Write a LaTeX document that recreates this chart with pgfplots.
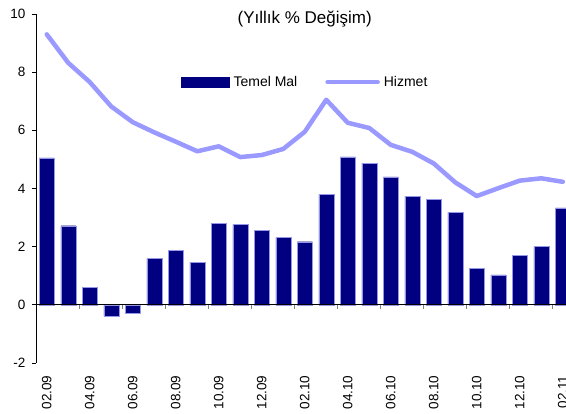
\documentclass[border=0pt]{standalone}
\usepackage{fontspec}
\setmainfont{Liberation Sans}
\usepackage{pgfplots}
\usepackage{pgfplotstable}
\pgfplotsset{compat=1.18}

\definecolor{barnavy}{RGB}{0,0,128}
\definecolor{baredge}{RGB}{150,150,230}
\definecolor{lineblue}{RGB}{153,153,255}

% month index, Temel Mal, Hizmet
\pgfplotstableread{
x temel hizmet
0  5.05 9.30
1  2.72 8.32
2  0.60 7.66
3 -0.40 6.82
4 -0.30 6.28
5  1.59 5.93
6  1.87 5.61
7  1.47 5.28
8  2.79 5.45
9  2.77 5.08
10 2.56 5.15
11 2.31 5.36
12 2.17 5.95
13 3.80 7.05
14 5.09 6.26
15 4.87 6.08
16 4.40 5.50
17 3.74 5.26
18 3.62 4.86
19 3.19 4.21
20 1.26 3.74
21 1.03 4.01
22 1.71 4.27
23 2.00 4.35
24 3.33 4.23
}\data

\begin{document}
\begin{tikzpicture}
\begin{axis}[
    scale only axis,
    width=530pt,
    height=349pt,
    xmin=-0.5, xmax=24.15,
    ymin=-2, ymax=10,
    clip mode=individual,
    axis x line*=bottom,
    axis y line*=left,
    x axis line style={draw=none},
    y axis line style={black, line width=0.8pt, -},
    ytick={-2,0,...,10},
    xtick={0,2,...,24},
    xticklabels={02.09,04.09,06.09,08.09,10.09,12.09,02.10,04.10,06.10,08.10,10.10,12.10,02.11},
    xtick style={draw=none},
    ytick style={black, line width=0.8pt},
    tick align=outside,
    major tick length=4pt,
    /pgf/number format/assume math mode=true,
    ticklabel style={font=\fontsize{13.5}{15}\selectfont},
    xticklabel style={rotate=90, anchor=east},
    xticklabel shift=5pt,
    yticklabel style={xshift=-3pt},
    legend columns=2,
    legend style={
        at={(rel axis cs:0.51,0.805)}, anchor=center,
        draw=none, fill=none,
        font=\fontsize{14}{16}\selectfont,
        nodes={inner xsep=4pt},
        /tikz/every even column/.append style={column sep=24pt},
    },
    legend cell align=left,
]

\addplot[
    ybar,
    bar width=15pt,
    fill=barnavy,
    draw=baredge,
    line width=0.4pt,
    legend image code/.code={\fill[barnavy] (0pt,-5pt) rectangle (48pt,5pt);}
] table[x=x, y=temel] {\data};
\addlegendentry{Temel Mal}

\addplot[
    lineblue,
    line width=4.5pt,
    line join=round,
    line cap=round,
    mark=none,
    legend image code/.code={\draw[lineblue, line width=4.5pt, line cap=round] (0pt,0pt) -- (50pt,0pt);}
] table[x=x, y=hizmet] {\data};
\addlegendentry{Hizmet}

% zero line with category ticks
\draw[black, line width=0.8pt] (axis cs:-0.5,0) -- (axis cs:24.15,0);
\pgfplotsinvokeforeach{1,...,12}{
    \draw[gray, line width=0.8pt] (axis cs:{-0.5+2*#1},0) -- ([yshift=-4pt]axis cs:{-0.5+2*#1},0);
}

\node[font=\fontsize{17}{19}\selectfont] at (rel axis cs:0.507,0.985) {(Yıllık \% Değişim)};
\end{axis}
\pgfresetboundingbox
\path[use as bounding box] (-36pt,-51pt) rectangle (530pt,363pt);
\end{tikzpicture}
\end{document}
